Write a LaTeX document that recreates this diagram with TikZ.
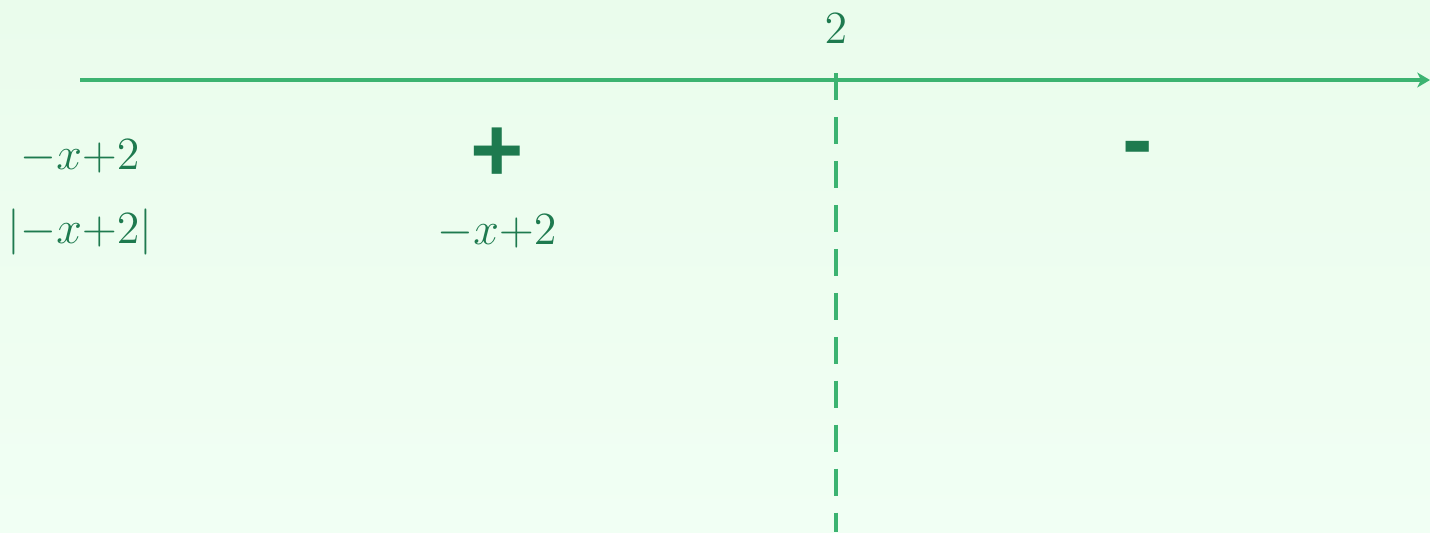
\RequirePackage{fix-cm}
\documentclass[tikz,border=0pt]{standalone}
\usepackage{fontspec}
\usetikzlibrary{arrows.meta}
\newfontfamily\signfont{Liberation Sans}[BoldFont={* Bold}]
\definecolor{bgtop}{HTML}{EAFCEC}
\definecolor{bgbot}{HTML}{F1FFF4}
\definecolor{axisc}{HTML}{3CB371}
\definecolor{txtc}{HTML}{1E7A4F}
\begin{document}
\begin{tikzpicture}[x=0.01cm,y=-0.01cm,
  lbl/.style={text=txtc,inner sep=0pt,font=\fontsize{13.1}{16}\selectfont},
  sgn/.style={text=txtc,inner sep=0pt,font=\fontsize{26}{30}\selectfont\signfont\bfseries},
  axisline/.style={draw=axisc,line width=1.14pt},
  dashline/.style={draw=axisc,line width=1.14pt,dash pattern=on 7.7pt off 4.8pt}]
\shade[top color=bgtop,bottom color=bgbot] (0,0) rectangle (1430,532);
\useasboundingbox (0,0) rectangle (1430,532);
\coordinate (axl) at (80,80);
\coordinate (axr) at (1430,80);
\coordinate (vt) at (836,73);
\coordinate (vb) at (836,532);
\draw[axisline,-{Stealth[length=3.6pt,width=4.2pt,inset=1pt]}] (axl) -- (axr);
\draw[dashline] (vt) -- (vb);
\node[lbl] (two) at (836,29) {$2$};
\node[lbl] (r1) at (80,157) {$-x{+}2$};
\node[lbl] (r2) at (80,232) {$|{-x}{+}2|$};
\node[sgn] (plus) at (497,155) {+};
\node[sgn] (minus) at (1138,156) {-};
\node[lbl] (e1) at (497,232) {$-x{+}2$};
\end{tikzpicture}
\end{document}
